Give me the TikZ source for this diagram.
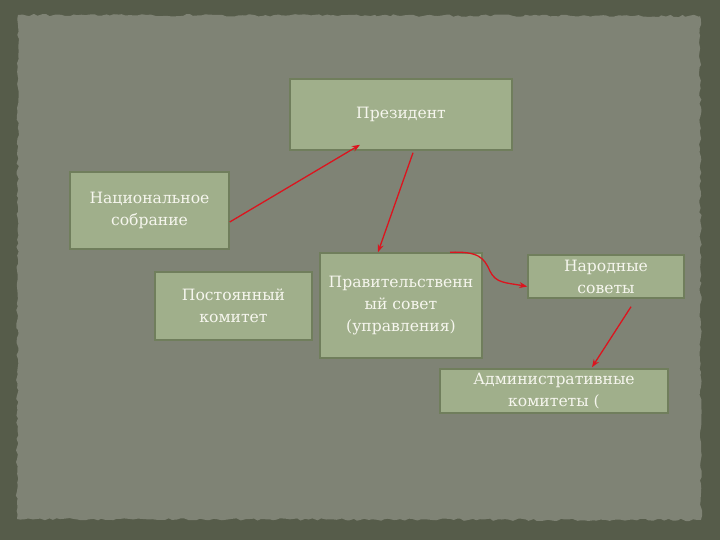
\documentclass[tikz,border=0pt]{standalone}
\usepackage{fontspec}
\setmainfont{DejaVu Serif}
\usetikzlibrary{arrows.meta,decorations.pathmorphing}

\definecolor{frameback}{RGB}{86,92,74}
\definecolor{paper}{RGB}{127,131,117}
\definecolor{boxfill}{RGB}{160,175,139}
\definecolor{boxline}{RGB}{112,126,92}
\definecolor{boxtext}{RGB}{246,246,238}
\definecolor{arrowred}{RGB}{220,20,30}

\begin{document}
\begin{tikzpicture}[x=1pt, y=-1pt,
    organ/.style={rectangle, draw=boxline, line width=1.5pt, fill=boxfill,
        text=boxtext, align=center, inner sep=2pt,
        font=\fontsize{15.6}{22}\selectfont},
    link/.style={draw=arrowred, line width=1.3pt, -{Stealth[length=8pt,width=6pt]}}]

    \useasboundingbox (0,0) rectangle (720,540);
    \fill[frameback] (0,0) rectangle (720,540);
    \fill[paper, decorate, decoration={random steps, segment length=4pt, amplitude=1.2pt}]
        (18,15) -- (700,16) -- (701,520) -- (17,519) -- cycle;

    \node[organ, minimum width=222pt, minimum height=71pt] (pres) at (401,114.5) {Президент};
    \node[organ, minimum width=159pt, minimum height=77pt] (nat) at (149.5,210.5) {Национальное\\собрание};
    \node[organ, minimum width=157pt, minimum height=68pt] (perm) at (233.5,306) {Постоянный\\комитет};
    \node[organ, minimum width=162pt, minimum height=105pt] (gov) at (401,305.5) {Правительственн\\ый совет\\(управления)};
    \node[organ, minimum width=156pt, minimum height=43pt, inner sep=0pt] (folk) at (606,276.5) {Народные\\советы};
    \node[organ, minimum width=228pt, minimum height=44pt, inner sep=0pt] (adm) at (554,391) {Административные\\комитеты (};

    \draw[link] ([yshift=-11.5pt]nat.east) -- ([xshift=-41pt,yshift=6pt]pres.south);
    \draw[link] ([xshift=12pt,yshift=-2pt]pres.south) -- ([xshift=-23pt]gov.north);
    \draw[link] ([xshift=49pt]gov.north) .. controls +(28,-1) and +(-6,-14) .. +(40,19)
        .. controls +(6,12) and +(-22,-4) .. ([yshift=-10pt]folk.west);
    \draw[link] ([xshift=25pt,yshift=-8pt]folk.south) -- ([xshift=38pt,yshift=1pt]adm.north);

\end{tikzpicture}
\end{document}
